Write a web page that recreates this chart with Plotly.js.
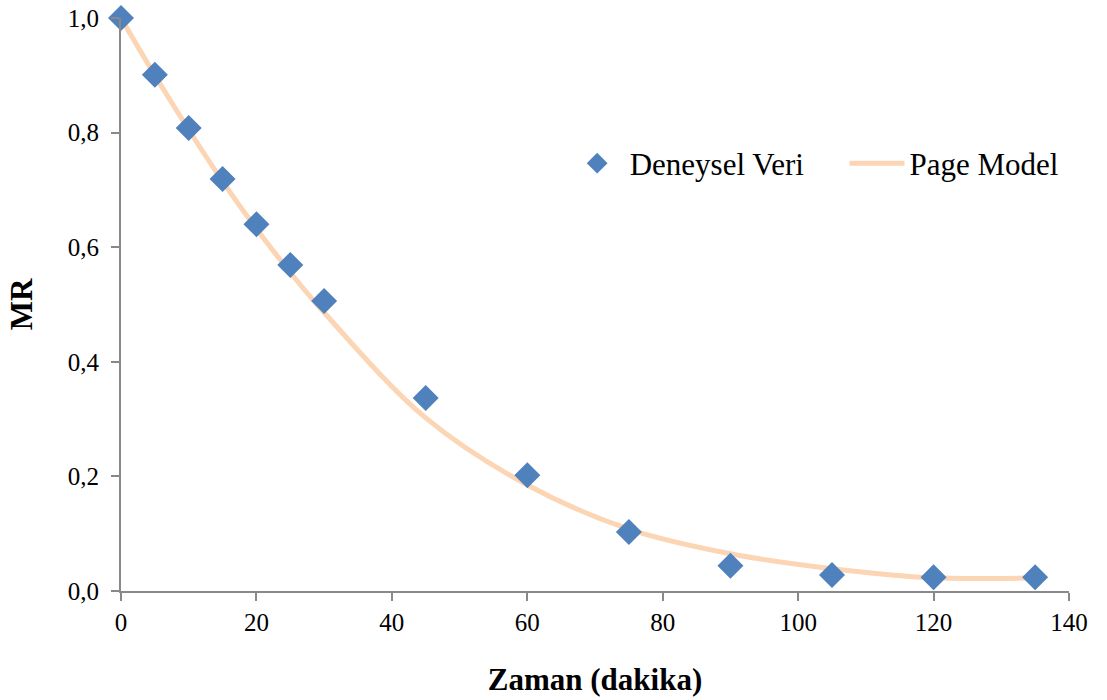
<!DOCTYPE html>
<html>
<head>
<meta charset="utf-8">
<script src="https://cdn.plot.ly/plotly-3.0.1.min.js"></script>
<style>html,body{margin:0;padding:0;background:#fff;}#chart{width:1107px;height:700px;}</style>
</head>
<body>
<div id="chart"></div>
<script>
const time = [0, 5, 10, 15, 20, 25, 30, 45, 60, 75, 90, 105, 120, 135];
const mrExperimental = [1.0, 0.901, 0.808, 0.719, 0.640, 0.569, 0.506, 0.337, 0.202, 0.103, 0.044, 0.028, 0.024, 0.024];
const mrPage = [1.0, 0.900, 0.805, 0.715, 0.632, 0.556, 0.486, 0.302, 0.185, 0.108, 0.065, 0.039, 0.023, 0.023];
const xTicks = [0, 20, 40, 60, 80, 100, 120, 140];
const yTicks = [0, 0.2, 0.4, 0.6, 0.8, 1.0];
const seriesNames = ['Deneysel Veri', 'Page Model'];

const font = '"Liberation Serif", "Times New Roman", serif';

const traces = [
  {
    x: time, y: mrPage, name: seriesNames[1], type: 'scatter', mode: 'lines',
    line: {color: '#FCD5B4', width: 5, shape: 'spline', smoothing: 1},
    legendrank: 2, cliponaxis: false
  },
  {
    x: time, y: mrExperimental, name: seriesNames[0] + '\u00a0\u00a0\u00a0\u2009\u2009', type: 'scatter', mode: 'markers',
    marker: {symbol: 'diamond', size: 20, color: '#4F81BD', line: {width: 0}},
    legendrank: 1, cliponaxis: false
  }
];

const layout = {
  width: 1107, height: 700,
  margin: {l: 121, r: 38, t: 18, b: 109},
  paper_bgcolor: '#ffffff', plot_bgcolor: '#ffffff',
  separators: ',.',
  font: {family: font, color: '#000000', size: 25},
  showlegend: true,
  legend: {
    orientation: 'h', x: 0.468, y: 0.746, xanchor: 'left', yanchor: 'middle',
    font: {family: font, size: 31, color: '#000'}, bgcolor: 'rgba(0,0,0,0)',
    itemwidth: 55
  },
  xaxis: {
    range: [0, 140], tickvals: xTicks, ticks: 'outside', ticklen: 8, tickcolor: '#898989', tickwidth: 2,
    showline: true, linecolor: '#898989', linewidth: 2, showgrid: false, zeroline: false,
    tickfont: {family: font, size: 25, color: '#000'},
    title: {text: '<b>Zaman (dakika)</b>', font: {family: font, size: 31, color: '#000'}, standoff: 33}
  },
  yaxis: {
    range: [0, 1.0], tickvals: yTicks, tickformat: '.1f', ticks: 'outside', ticklen: 8, tickcolor: '#898989', tickwidth: 2,
    showline: true, linecolor: '#898989', linewidth: 2, showgrid: false, zeroline: false,
    ticklabelstandoff: 7,
    tickfont: {family: font, size: 25, color: '#000'},
    title: {text: '<b>MR</b>', font: {family: font, size: 31, color: '#000'}, standoff: 26}
  }
};

Plotly.newPlot('chart', traces, layout, {displayModeBar: false, staticPlot: true});
</script>
</body>
</html>
